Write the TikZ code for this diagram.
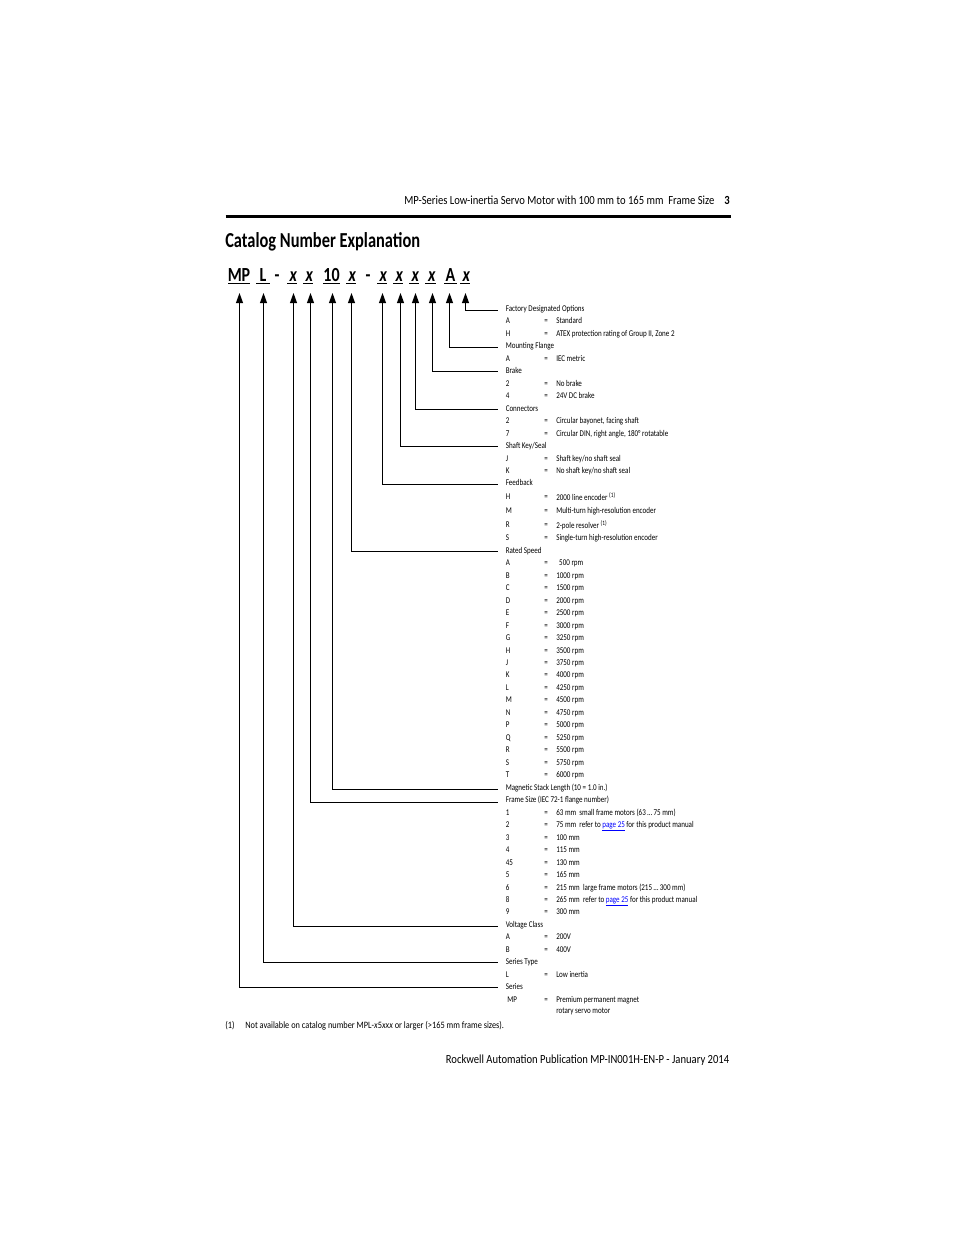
\documentclass[tikz,border=0pt]{standalone}
\usepackage{fontspec}
\setmainfont[FakeStretch=0.855]{Carlito}
\newfontfamily\narrowfont[FakeStretch=0.8]{Carlito}
\newfontfamily\titlefont[FakeStretch=0.77]{Carlito}
\usetikzlibrary{arrows.meta}
\tikzset{
  conn/.style={line width=0.75pt,-{Triangle[length=7.5pt,width=5.2pt]}},
  rowtxt/.style={anchor=base west,inner sep=0pt,font=\narrowfont\fontsize{6.6}{8}\selectfont},
  headtxt/.style={rowtxt,inner xsep=6pt},
  eqtxt/.style={anchor=base,inner sep=0pt,font=\narrowfont\fontsize{6.6}{8}\selectfont},
  codetxt/.style={anchor=base,inner sep=0pt,font=\narrowfont\fontsize{15}{18}\selectfont\bfseries},
  pagetxt/.style={anchor=base west,inner sep=0pt,font=\fontsize{9.3}{11}\selectfont}
}
\newcommand{\plink}{\textcolor{blue}{\underline{page 25}}}
\newcommand{\fnref}[1]{\raisebox{-0.75pt}{#1 \raisebox{2.2pt}{\fontsize{5}{6}\selectfont (1)}}}
\newcommand{\xcode}{\hspace{2pt}\textit{x}}

\begin{document}
\begin{tikzpicture}[x=0.75pt,y=-0.75pt]
\useasboundingbox (0,0) rectangle (954,1235);
\fill[white] (0,0) rectangle (954,1235);

% page header and title
\node[pagetxt] (running) at (404,204) {MP-Series Low-inertia Servo Motor with 100 mm to 165 mm\ \ Frame Size};
\node[pagetxt,font=\fontsize{9.3}{11}\selectfont\bfseries] (pageno) at (724,204) {3};
\draw[line width=2.25pt] (225.5,216.2) -- (730.5,216.2);
\node[pagetxt,font=\titlefont\fontsize{16}{18}\selectfont\bfseries] (title) at (225,247) {Catalog Number Explanation};

% catalog number
\foreach \nm/\lft/\rgt/\tipx/\txt in {mp/228/250/239.5/MP,l/256/270/263.5/L,xa/287/297/293.5/\xcode,xb/303/313/310.5/\xcode,ten/323/340/332.5/10,xc/346/356/351.5/\xcode,xd/377/387/382.5/\xcode,xe/393/403/400.5/\xcode,xf/409/419/415.5/\xcode,xg/425/436/432.5/\xcode,am/444/457/449.5/A,xh/460/470/465.5/\xcode}{
    \node[codetxt] (\nm) at ({(\lft+\rgt)/2},281) {\txt};
    \draw[line width=0.75pt] (\lft,283.5) -- (\rgt,283.5);
    \coordinate (tip\nm) at (\tipx,293);
}
\node[codetxt] (dasha) at (277,281) {-};
\node[codetxt] (dashb) at (368,281) {-};

% headings with their connectors
\foreach \nm/\y/\ly/\tp/\txt in {hfo/311/310.5/xh/Factory Designated Options,hmf/348/347.5/am/Mounting Flange,hbr/373/371.5/xg/Brake,hcn/411/409.5/xf/Connectors,hsk/448/446.5/xe/{Shaft Key/Seal},hfb/485/484.5/xd/Feedback,hrs/553/551.5/xc/Rated Speed,hms/790/789.5/ten/Magnetic Stack Length (10 = 1.0 in.),hfs/802/802.5/xb/Frame Size (IEC 72-1 flange number),hvc/927/926.5/xa/Voltage Class,hst/964/962.5/l/Series Type,hse/989/987.5/mp/Series}{
    \node[headtxt] (\nm) at (497.5,\y) {\txt};
    \draw[conn] (\nm.west |- 0,\ly) -| (tip\tp);
}

% option rows
\foreach \y/\k/\d in {323/A/Standard,336/H/{ATEX protection rating of Group II, Zone 2},361/A/IEC metric,386/2/No brake,398/4/24V DC brake,423/2/{Circular bayonet, facing shaft},436/7/{Circular DIN, right angle, 180\textdegree\ rotatable},461/J/{Shaft key/no shaft seal},473/K/{No shaft key/no shaft seal},499/H/{\fnref{2000 line encoder}},513/M/Multi-turn high-resolution encoder,527/R/{\fnref{2-pole resolver}},540/S/Single-turn high-resolution encoder,
565/A/\hspace{2.2pt}500 rpm,578/B/1000 rpm,590/C/1500 rpm,603/D/2000 rpm,615/E/2500 rpm,628/F/3000 rpm,640/G/3250 rpm,653/H/3500 rpm,665/J/3750 rpm,677/K/4000 rpm,690/L/4250 rpm,702/M/4500 rpm,715/N/4750 rpm,727/P/5000 rpm,740/Q/5250 rpm,752/R/5500 rpm,765/S/5750 rpm,777/T/6000 rpm,
815/1/{63 mm\ \ small frame motors (63\,\dots\,75 mm)},827/2/{75 mm\ \ refer to \plink\ for this product manual},840/3/100 mm,852/4/115 mm,865/45/130 mm,877/5/165 mm,890/6/{215 mm\ \ large frame motors (215\,\dots\,300 mm)},902/8/{265 mm\ \ refer to \plink\ for this product manual},914/9/300 mm,939/A/200V,952/B/400V,977/L/Low inertia}{
    \node[rowtxt] (key\y) at (505.5,\y) {\k};
    \node[eqtxt] (eq\y) at (546,\y) {=};
    \node[rowtxt] (val\y) at (556,\y) {\d};
}
\node[rowtxt] (keymp) at (507,1002) {MP};
\node[eqtxt] (eqmp) at (546,1002) {=};
\node[rowtxt] (valmp) at (556,1002) {Premium permanent magnet};
\node[rowtxt] (valmpb) at (556,1013) {rotary servo motor};

% footnote and footer
\node[rowtxt,font=\fontsize{7.3}{8}\selectfont] (fnmark) at (225,1028) {(1)};
\node[rowtxt,font=\fontsize{7.3}{8}\selectfont] (fntxt) at (245,1028) {Not available on catalog number MPL-\textit{x}5\textit{xxx} or larger (>165 mm frame sizes).};
\node[pagetxt,anchor=base east] (footer) at (729.5,1063) {Rockwell Automation Publication MP-IN001H-EN-P - January 2014};

\end{tikzpicture}
\end{document}
